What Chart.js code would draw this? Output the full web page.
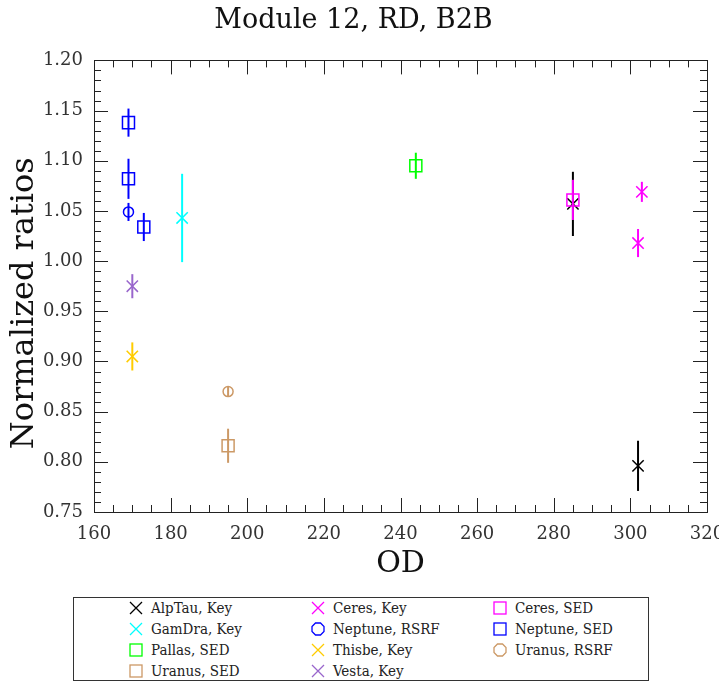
<!DOCTYPE html>
<html><head><meta charset="utf-8">
<script src="https://cdn.jsdelivr.net/npm/chart.js@4.4.1/dist/chart.umd.min.js"></script>
<style>
body{margin:0;background:#fff;}
#wrap{position:relative;width:719px;height:684px;}
#c{position:absolute;left:0;top:0;}
#legend{position:absolute;left:73px;top:597px;width:576px;height:84px;border:1px solid #333;box-sizing:border-box;font-family:"DejaVu Serif Condensed","DejaVu Serif",serif;font-size:15px;color:#222;}
.li{position:absolute;height:20px;line-height:20px;white-space:nowrap;}
.li svg{position:absolute;left:-22px;top:3px;}
</style></head>
<body><div id="wrap"><canvas id="c" width="719" height="590"></canvas><div id="legend"></div></div>
<script>
// ---- data ----
const alpTauKeyX = [285, 302];
const alpTauKeyY = [1.057, 0.796];
const alpTauKeyErr = [0.032, 0.025];
const ceresKeyX = [303, 302];
const ceresKeyY = [1.069, 1.018];
const ceresKeyErr = [0.010, 0.014];
const ceresSedX = [285];
const ceresSedY = [1.061];
const ceresSedErr = [0.020];
const gamDraKeyX = [183];
const gamDraKeyY = [1.043];
const gamDraKeyErr = [0.044];
const neptuneRsrfX = [169];
const neptuneRsrfY = [1.049];
const neptuneRsrfErr = [0.009];
const neptuneSedX = [169, 169, 173];
const neptuneSedY = [1.138, 1.082, 1.034];
const neptuneSedErr = [0.014, 0.020, 0.014];
const pallasSedX = [244];
const pallasSedY = [1.095];
const pallasSedErr = [0.013];
const thisbeKeyX = [170];
const thisbeKeyY = [0.905];
const thisbeKeyErr = [0.014];
const uranusRsrfX = [195];
const uranusRsrfY = [0.870];
const uranusRsrfErr = [0.005];
const uranusSedX = [195];
const uranusSedY = [0.816];
const uranusSedErr = [0.017];
const vestaKeyX = [170];
const vestaKeyY = [0.975];
const vestaKeyErr = [0.012];

const seriesNames = ["AlpTau, Key","Ceres, Key","Ceres, SED","GamDra, Key","Neptune, RSRF","Neptune, SED","Pallas, SED","Thisbe, Key","Uranus, RSRF","Uranus, SED","Vesta, Key"];
const seriesColors = ["#000000","#ff00ff","#ff00ff","#00ffff","#0000ff","#0000ff","#00ff00","#ffcc00","#cc9966","#cc9966","#9966cc"];
const seriesShapes = ["crossRot","crossRot","rect","crossRot","circle","rect","rect","crossRot","circle","rect","crossRot"];
const seriesX = [alpTauKeyX,ceresKeyX,ceresSedX,gamDraKeyX,neptuneRsrfX,neptuneSedX,pallasSedX,thisbeKeyX,uranusRsrfX,uranusSedX,vestaKeyX];
const seriesY = [alpTauKeyY,ceresKeyY,ceresSedY,gamDraKeyY,neptuneRsrfY,neptuneSedY,pallasSedY,thisbeKeyY,uranusRsrfY,uranusSedY,vestaKeyY];
const seriesErr = [alpTauKeyErr,ceresKeyErr,ceresSedErr,gamDraKeyErr,neptuneRsrfErr,neptuneSedErr,pallasSedErr,thisbeKeyErr,uranusRsrfErr,uranusSedErr,vestaKeyErr];
const legendOrder = [0,1,2,3,4,5,6,7,8,9,10];
const yAxisTitle = 'Normalized ratios';

const serif = '"DejaVu Serif", serif';

const datasets = seriesNames.map((name, i) => ({
  label: name,
  data: seriesX[i].map((x, j) => ({x: x, y: seriesY[i][j], err: seriesErr[i][j]})),
  borderColor: seriesColors[i],
  backgroundColor: 'rgba(0,0,0,0)',
  pointStyle: seriesShapes[i],
  pointRadius: seriesShapes[i] === 'rect' ? 8.5 : (seriesShapes[i] === 'circle' ? 5 : 8),
  pointBorderWidth: 1.5,
  showLine: false,
  order: i === 0 ? 20 : 0
}));

const errorBars = {
  id: 'errorBars',
  beforeDatasetDraw(chart, args) {
    const ds = chart.data.datasets[args.index];
    const ctx = chart.ctx, xs = chart.scales.x, ys = chart.scales.y;
    ctx.save();
    ctx.strokeStyle = ds.borderColor;
    ctx.lineWidth = 2;
    ds.data.forEach(p => {
      const px = xs.getPixelForValue(p.x);
      ctx.beginPath();
      ctx.moveTo(px, ys.getPixelForValue(p.y - p.err));
      ctx.lineTo(px, ys.getPixelForValue(p.y + p.err));
      ctx.stroke();
    });
    ctx.restore();
  }
};

const frameTicks = {
  id: 'frameTicks',
  afterDraw(chart) {
    const ctx = chart.ctx, a = chart.chartArea, xs = chart.scales.x, ys = chart.scales.y;
    ctx.save();
    ctx.strokeStyle = '#222';
    ctx.lineWidth = 1;
    ctx.strokeRect(Math.round(a.left)+0.5, Math.round(a.top)+0.5, Math.round(a.right-a.left), Math.round(a.bottom-a.top));
    ctx.beginPath();
    for (let v = 160; v <= 320; v += 5) {
      const len = (v % 20 === 0) ? 14 : 7;
      const px = Math.round(xs.getPixelForValue(v)) + 0.5;
      ctx.moveTo(px, a.bottom); ctx.lineTo(px, a.bottom - len);
      ctx.moveTo(px, a.top); ctx.lineTo(px, a.top + len);
    }
    for (let k = 75; k <= 120; k += 1) {
      const v = k / 100;
      const len = (k % 5 === 0) ? 14 : 7;
      const py = Math.round(ys.getPixelForValue(v)) + 0.5;
      ctx.moveTo(a.left, py); ctx.lineTo(a.left + len, py);
      ctx.moveTo(a.right, py); ctx.lineTo(a.right - len, py);
    }
    ctx.stroke();
    // y-axis title (slightly below the centre of the axis, as in the reference)
    ctx.fillStyle = '#111';
    ctx.font = '32px ' + serif;
    ctx.textAlign = 'center';
    ctx.textBaseline = 'alphabetic';
    ctx.translate(33, ys.getPixelForValue(0.958));
    ctx.rotate(-Math.PI / 2);
    ctx.fillText(yAxisTitle, 0, 0);
    ctx.restore();
  }
};

new Chart(document.getElementById('c'), {
  type: 'scatter',
  data: { datasets: datasets },
  options: {
    responsive: false,
    animation: false,
    layout: { padding: { left: 0, right: 12, top: 0, bottom: 8 } },
    plugins: {
      legend: { display: false },
      tooltip: { enabled: false },
      title: { display: true, text: 'Module 12, RD, B2B', color: '#111', font: { family: serif, size: 27, weight: 'normal' }, padding: { top: 5, bottom: 23 } }
    },
    scales: {
      x: {
        type: 'linear', min: 160, max: 320,
        ticks: { stepSize: 20, color: '#333', font: { family: serif, size: 18 }, padding: 12, maxRotation: 0 },
        grid: { display: false, drawTicks: false },
        border: { display: false },
        title: { display: true, text: 'OD', color: '#111', font: { family: serif, size: 30 }, padding: { top: 0, bottom: 0 } },
        afterFit(s) { s.height = 70; s.paddingRight = 0; s.paddingLeft = 0; }
      },
      y: {
        type: 'linear', min: 0.75, max: 1.2,
        ticks: { stepSize: 0.05, color: '#333', font: { family: serif, size: 18 }, padding: 11, callback: v => v.toFixed(2) },
        grid: { display: false, drawTicks: false },
        border: { display: false },
        title: { display: false },
        afterFit(s) { s.width = 94; s.paddingTop = 0; s.paddingBottom = 0; }
      }
    }
  },
  plugins: [errorBars, frameTicks]
});

// ---- HTML legend ----
const leg = document.getElementById('legend');
const colText = [77, 259, 441];
const rowTop = [0, 21, 42, 63];
legendOrder.forEach((idx, k) => {
  const r = Math.floor(k / 3), c = k % 3;
  const d = document.createElement('div');
  d.className = 'li';
  d.style.left = colText[c] + 'px';
  d.style.top = rowTop[r] + 'px';
  const col = seriesColors[idx], sh = seriesShapes[idx];
  let svg = '<svg width="14" height="14" viewBox="0 0 14 14">';
  if (sh === 'rect') svg += '<rect x="1" y="1" width="12" height="12" fill="none" stroke="' + col + '" stroke-width="1.3"/>';
  else if (sh === 'circle') svg += '<polygon points="4.5,1 9.5,1 13,4.5 13,9.5 9.5,13 4.5,13 1,9.5 1,4.5" fill="none" stroke="' + col + '" stroke-width="1.3"/>';
  else svg += '<path d="M1 1 L13 13 M13 1 L1 13" stroke="' + col + '" stroke-width="1.3"/>';
  svg += '</svg>';
  d.innerHTML = svg + '<span>' + seriesNames[idx] + '</span>';
  leg.appendChild(d);
});
</script>
</body></html>
